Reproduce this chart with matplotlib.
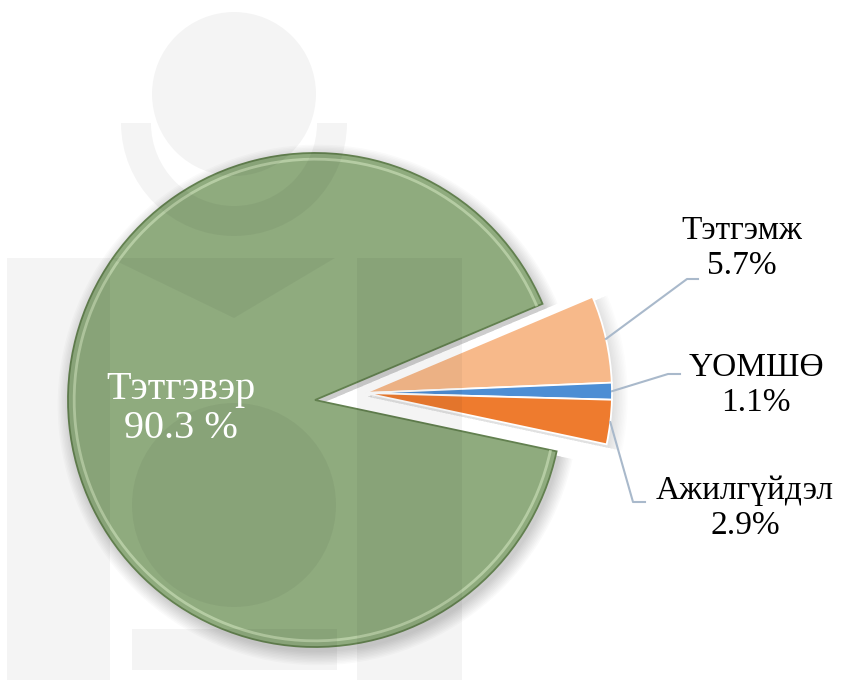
import matplotlib
matplotlib.use("Agg")
import matplotlib.pyplot as plt
from matplotlib.patches import Circle, Wedge, Polygon, Arc
import numpy as np

# ---- data ----
categories = ["Тэтгэвэр", "Тэтгэмж", "ҮОМШӨ", "Ажилгүйдэл"]
values = [90.3, 5.7, 1.1, 2.9]
pct_labels = ["90.3 %", "5.7%", "1.1%", "2.9%"]
colors = ["#8fab7e", "#f7b98a", "#4d8ed4", "#ee7b2e"]

FONT = ["Liberation Serif", "DejaVu Serif"]

W, H = 845, 680
CX, CY, R = 315, 400, 247


def P(px, py):
    return ((px - CX) / R, (CY - py) / R)


fig = plt.figure(figsize=(8.45, 6.8), dpi=100)
ax = fig.add_axes([0, 0, 1, 1])

start = -12
# main (green) slice
w1, _ = ax.pie(values, colors=colors, startangle=start, counterclock=False,
               radius=1, center=(0, 0),
               wedgeprops=dict(edgecolor="#62804f", linewidth=1.3, zorder=1))
for w in w1[1:]:
    w.set_visible(False)
# exploded small slices
c2 = P(365, 393)
w2, _ = ax.pie(values, colors=colors, startangle=start, counterclock=False,
               radius=1, center=c2,
               wedgeprops=dict(edgecolor="white", linewidth=1.3, zorder=1))
w2[0].set_visible(False)

g = w1[0]
# soft shadow behind the slices
for k in range(10):
    ax.add_patch(Wedge((0.012, -0.02), 1 + 0.006 * k, g.theta1, g.theta2,
                       facecolor="black", alpha=0.018, edgecolor="none",
                       zorder=0.5))
    for w in w2[1:]:
        ax.add_patch(Wedge((c2[0] + 0.01, c2[1] - 0.015), 1 + 0.006 * k,
                           w.theta1, w.theta2, facecolor="black", alpha=0.012,
                           edgecolor="none", zorder=0.5))

# bevel highlight on green slice
ax.add_patch(Arc((0, 0), 2 * 0.975, 2 * 0.975, theta1=g.theta1, theta2=g.theta2,
                 color="#cfe3bd", lw=2, alpha=0.6, zorder=1.5))

# ---- watermark (soyombo-like, faint) ----
wm = dict(facecolor="black", alpha=0.045, edgecolor="none", zorder=2)
def Rpx(r):
    return r / R
ax.add_patch(Circle(P(234, 94), Rpx(82), **wm))
ax.add_patch(Wedge(P(234, 123), Rpx(113), 180, 360, width=Rpx(30), **wm))
ax.add_patch(Polygon([P(7, 258), P(110, 258), P(110, 680), P(7, 680)], **wm))
ax.add_patch(Polygon([P(357, 258), P(462, 258), P(462, 680), P(357, 680)], **wm))
ax.add_patch(Polygon([P(110, 258), P(335, 258), P(234, 318)], **wm))
ax.add_patch(Circle(P(234, 505), Rpx(102), **wm))
ax.add_patch(Polygon([P(132, 629), P(337, 629), P(337, 670), P(132, 670)], **wm))

# ---- labels ----
mid = np.deg2rad((g.theta1 + g.theta2) / 2)
ax.text(0.545 * np.cos(mid), 0.545 * np.sin(mid) + 0.015,
        f"{categories[0]}\n{pct_labels[0]}", color="white", fontsize=29,
        family=FONT, ha="center", va="center", linespacing=1.05, zorder=5)

label_pos = [None, P(742, 248), P(756, 385), P(745, 508)]
knees = [None, (P(687, 279), P(698, 279)), (P(668, 374), P(680, 374)),
         (P(633, 502), P(645, 502))]
for i in range(1, 4):
    w = w2[i]
    m = np.deg2rad((w.theta1 + w.theta2) / 2)
    x0, y0 = c2[0] + np.cos(m), c2[1] + np.sin(m)
    k1, k2 = knees[i]
    ax.plot([x0, k1[0], k2[0]], [y0, k1[1], k2[1]], color="#a9b9cb",
            lw=1.5, zorder=4)
    ax.text(label_pos[i][0], label_pos[i][1],
            f"{categories[i]}\n{pct_labels[i]}", color="black", fontsize=24,
            family=FONT, ha="center", va="center", linespacing=1.2, zorder=5)

ax.set_xlim(-CX / R, (W - CX) / R)
ax.set_ylim(-(H - CY) / R, CY / R)
ax.set_aspect("auto")
ax.axis("off")

fig.savefig("out.png", dpi=100)
